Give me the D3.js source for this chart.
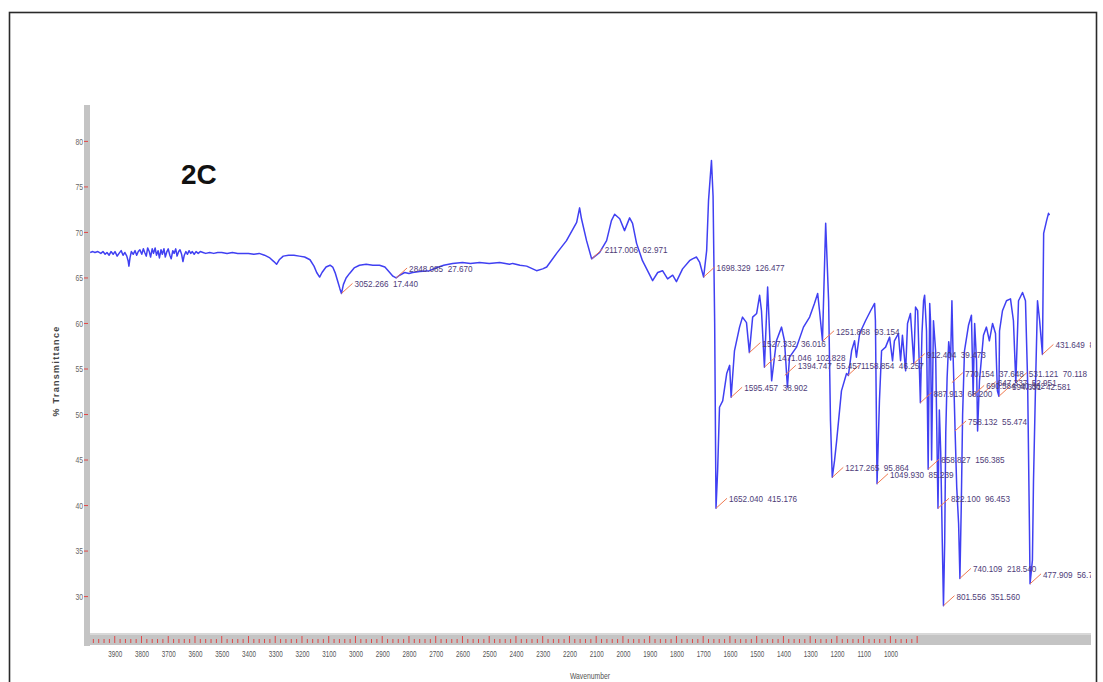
<!DOCTYPE html>
<html>
<head>
<meta charset="utf-8">
<script src="https://cdn.jsdelivr.net/npm/d3@7"></script>
<style>
  html, body { margin: 0; padding: 0; background: #fff; }
  svg { display: block; }
  .nf { font-family: "Liberation Sans", Arial, sans-serif; }
</style>
</head>
<body>
<svg id="chart" width="1103" height="682"></svg>
<script>
// ---------------- DATA ----------------
const chartTitle = "2C";
const xAxisTitle = "Wavenumber";
const yAxisTitle = "% Transmittance";

const xTickLabels = [3900,3800,3700,3600,3500,3400,3300,3200,3100,3000,2900,2800,2700,2600,2500,2400,2300,2200,2100,2000,1900,1800,1700,1600,1500,1400,1300,1200,1100,1000];
const yTickLabels = [30,35,40,45,50,55,60,65,70,75,80];

// Wavenumber (cm-1), descending
const wavenumber = [
 3992,3982,3974,3963,3952,3944,3936,3929,3921,3914,3906,3899,3891,3884,3876,3869,3862,3855,3850,3847,
 3843,3838,3831,3824,3818,3812,3806,3799,3793,3788,3782,3777,3771,3766,3760,3755,3749,3744,3738,3733,
 3727,3722,3716,3711,3705,3700,3694,3689,3683,3678,3672,3667,3661,3656,3650,3645,3640,3634,3628,3622,
 3616,3610,3603,3596,3588,3580,3570,3560,3545,3530,3515,3500,3480,3460,3440,3420,3400,
 3380,3360,3340,3320,3305,3295,3285,3270,3250,3230,3210,3190,3170,3155,3145,3134,3125,3110,3095,3085,
 3075,3065,3058,3052.3,3045,3035,3022,3005,2985,2960,2935,2910,2890,2872,2860,2848.1,2835,2816,2800,2786,
 2760,2723,2700,2670,2637,2600,2570,2536,2500,2461,2424,2412,2385,2360,2323,2300,2285,2248,2211,2173,
 2162,2155,2136,2117,2087,2061,2043,2031,2012,1994,1975,1964,1949,1927,1908,1889,1870,1852,1833,1814,
 1800,1777,1751,1740,1725,1713,1698.3,1687,1680,1669,1663,1657,1652.0,1646,1639,1627,1612,1601,1595.5,1583,
 1564,1553,1538,1527.3,1515,1500,1489,1482,1471.0,1459,1444,1426,1407,1396,1385,1377,1351,1325,1302,1284,
 1272,1265,1254,1242,1231,1224,1217.3,1209,1201,1183,1164,1157,1145,1134,1127,1115,1093,1074,1059,1056,
 1049.9,1041,1033,1018,1003,992,985,970,962,955,943,936,925,912.4,906,898,887.9,882,876,872,
 865,858.8,853,850,846,839,831,822.1,817,812,806,801.6,797,793,788,782,775,770,766,758.1,
 752,745,740.1,735,730,723,708,697,690.6,685,678,674,667,652,641,630,618,607,600,594.3,
 592,581,566,551,540,531.1,521,506,495,487,480,477.9,469,465,457,450,442,431.6,427,416,
 409,405
];
// % Transmittance
const transmittance = [
 67.8,67.9,67.8,67.9,67.7,67.9,67.6,67.8,67.5,67.9,67.6,67.9,67.4,67.7,68.0,67.5,67.8,67.4,66.9,66.3,
 67.2,67.9,67.6,68.0,67.5,67.9,68.1,67.6,68.2,67.8,67.4,68.3,67.9,67.3,68.2,67.7,68.3,67.5,68.0,67.2,
 68.1,67.6,68.2,67.3,67.9,68.2,67.5,67.1,68.0,67.7,68.2,67.4,67.9,68.1,67.6,66.8,67.5,67.9,67.6,68.0,
 67.7,67.9,67.6,67.9,67.7,67.9,67.8,67.7,67.8,67.7,67.8,67.8,67.7,67.8,67.7,67.7,67.7,
 67.6,67.7,67.5,67.2,66.8,66.5,67.0,67.4,67.5,67.5,67.4,67.3,67.0,66.3,65.6,65.1,65.6,66.2,66.4,66.2,
 65.5,64.5,63.8,63.3,64.3,65.0,65.5,66.1,66.4,66.5,66.4,66.4,66.2,65.6,65.2,65.0,65.3,65.6,65.5,65.6,
 65.7,65.8,66.1,66.4,66.6,66.7,66.6,66.7,66.6,66.7,66.5,66.6,66.4,66.3,65.8,66.0,66.2,67.7,69.1,71.1,
 72.7,71.5,69.1,67.1,67.8,69.1,71.3,72.0,71.5,70.2,71.6,71.0,68.8,66.9,65.8,64.7,65.6,65.8,64.9,65.3,
 64.6,66.0,66.9,67.1,67.3,66.7,65.1,68.0,73.5,77.9,74.0,60.0,39.7,43.8,50.8,51.5,54.5,55.4,51.9,57.0,
 59.6,60.7,60.1,56.8,60.7,61.1,63.1,61.4,55.2,64.0,53.7,58.1,59.6,58.1,53.0,56.3,57.4,59.6,60.7,62.2,
 63.3,61.4,58.1,71.0,62.5,49.3,43.1,44.9,47.1,52.6,54.5,54.3,57.0,58.1,56.3,58.9,60.3,61.4,62.2,60.3,
 42.4,51.5,57.0,57.4,58.5,55.9,58.1,58.9,55.9,58.7,54.8,60.0,61.1,55.6,61.8,61.4,51.3,58.9,62.5,63.1,
 59.2,44.0,62.2,60.3,45.0,60.3,57.0,39.7,50.5,46.0,36.0,29.0,36.0,48.0,54.0,58.0,56.0,62.5,57.0,48.2,
 42.0,38.0,32.0,40.0,50.0,57.0,59.8,60.9,52.1,60.0,55.9,48.2,53.7,58.7,59.6,58.1,60.0,58.9,52.6,52.0,
 59.2,61.4,62.5,62.7,60.3,53.5,62.5,63.4,62.5,53.7,37.3,31.4,34.0,42.7,53.7,62.5,60.3,56.6,69.9,71.3,
 72.1,71.9
];

// Peak annotations: position (wavenumber, %T) and text
const peakWavenumber = [3052.266,2848.085,2117.006,1698.329,1652.040,1595.457,1527.332,1471.046,1394.747,1251.868,1217.265,1158.854,1049.930,912.404,887.913,858.827,822.100,801.556,770.154,758.132,740.109,690.584,647.337,594.331,531.121,477.909,431.649];
const peakT          = [63.3,65.0,67.1,65.1,39.7,51.9,56.8,55.2,54.3,58.1,43.1,54.3,42.4,55.6,51.3,44.0,39.7,29.0,53.5,48.2,32.0,52.1,52.5,52.0,53.5,31.4,56.6];
const peakText = ["3052.266  17.440","2848.085  27.670","2117.006  62.971","1698.329  126.477","1652.040  415.176",
 "1595.457  38.902","1527.332  36.016","1471.046  102.828","1394.747  55.457","1251.868  93.154","1217.265  95.864",
 "1158.854  46.257","1049.930  85.239","912.404  39.473","887.913  68.200","858.827  156.385","822.100  96.453",
 "801.556  351.560","770.154  37.648","758.132  55.474","740.109  218.540","690.584  40.862","647.337  52.951",
 "594.331  42.581","531.121  70.118","477.909  56.742","431.649  84.718"];

// ---------------- DRAWING ----------------
const svg = d3.select("#chart");
const plot = { left: 90, right: 1091, top: 105, bottom: 633 };

const x = d3.scaleLinear().domain([4000, 250]).range([88, 1091]);
const y = d3.scaleLinear().domain([26, 84]).range([633, 105]);

// outer frame
svg.append("rect").attr("x", 9.5).attr("y", 12.5).attr("width", 1087).attr("height", 720)
  .attr("fill", "none").attr("stroke", "#2a2a2a").attr("stroke-width", 1.6);

// axis bars (gray)
svg.append("rect").attr("x", 84).attr("y", plot.top).attr("width", 6).attr("height", 541)
  .attr("fill", "#c4c4c4");
svg.append("rect").attr("x", 84).attr("y", 633).attr("width", 1007).attr("height", 12)
  .attr("fill", "#c4c4c4");
svg.append("rect").attr("x", 90).attr("y", 633).attr("width", 1001).attr("height", 2)
  .attr("fill", "#d8d8d8");

// x minor/major red ticks
const xMinor = d3.range(3980, 899, -20);
svg.append("g").selectAll("line").data(xMinor).join("line")
  .attr("x1", d => x(d)).attr("x2", d => x(d))
  .attr("y1", d => (d % 100 === 0) ? 636 : 639).attr("y2", 643)
  .attr("stroke", "#e04848").attr("stroke-width", 1);

// x tick labels via d3 axis
const xAxis = d3.axisBottom(x).tickValues(xTickLabels).tickSize(0).tickPadding(0).tickFormat(d3.format("d"));
const gx = svg.append("g").attr("transform", "translate(0,654)").call(xAxis);
gx.select(".domain").remove();
gx.selectAll("text").attr("class", "nf").attr("font-size", 8.5).attr("fill", "#555")
  .attr("dy", "0.3em").attr("y", 0).attr("transform", "scale(0.74,1)");

// y ticks
svg.append("g").selectAll("line").data(yTickLabels).join("line")
  .attr("x1", 84).attr("x2", 88).attr("y1", d => y(d)).attr("y2", d => y(d))
  .attr("stroke", "#e04848").attr("stroke-width", 1);
const yAxis = d3.axisLeft(y).tickValues(yTickLabels).tickSize(0).tickPadding(0);
const gy = svg.append("g").attr("transform", "translate(83,0)").call(yAxis);
gy.select(".domain").remove();
gy.selectAll("text").attr("class", "nf").attr("font-size", 8.5).attr("fill", "#666")
  .attr("transform", "scale(0.8,1)");

// axis titles
svg.append("text").attr("class", "nf").attr("transform", "translate(590,679) scale(0.8,1)")
  .attr("text-anchor", "middle").attr("font-size", 8.5).attr("fill", "#555").text(xAxisTitle);
svg.append("text").attr("class", "nf")
  .attr("transform", "translate(59,371) rotate(-90)")
  .attr("text-anchor", "middle").attr("font-size", 9).attr("font-weight", "bold")
  .attr("letter-spacing", 1.3).attr("fill", "#444").text(yAxisTitle);

// chart title "2C"
svg.append("text").attr("x", 181).attr("y", 184)
  .attr("font-family", "Liberation Sans, Arial, sans-serif").attr("font-size", 28)
  .attr("font-weight", "bold").attr("fill", "#111").text(chartTitle);

// clip
svg.append("clipPath").attr("id", "plotclip").append("rect")
  .attr("x", plot.left).attr("y", plot.top).attr("width", plot.right - plot.left).attr("height", plot.bottom - plot.top);

const pg = svg.append("g").attr("clip-path", "url(#plotclip)");

// spectrum line
const pts = wavenumber.map((w, i) => [w, transmittance[i]]);
const line = d3.line().x(d => x(d[0])).y(d => y(d[1]));
pg.append("path").datum(pts).attr("d", line)
  .attr("fill", "none").attr("stroke", "#4040f2").attr("stroke-width", 1.5)
  .attr("stroke-linejoin", "round");

// peak annotations
const peaks = peakWavenumber.map((w, i) => ({ w, t: peakT[i], s: peakText[i] }));
const ag = pg.append("g");
ag.selectAll("line").data(peaks).join("line")
  .attr("x1", d => x(d.w)).attr("y1", d => y(d.t))
  .attr("x2", d => x(d.w) + 11).attr("y2", d => y(d.t) - 10)
  .attr("stroke", "#f07a50").attr("stroke-width", 1);
ag.selectAll("text").data(peaks).join("text")
  .attr("class", "nf")
  .attr("transform", d => `translate(${x(d.w) + 13},${y(d.t) - 6}) scale(0.86,1)`)
  .attr("font-size", 9.5).attr("fill", "#4e3c78")
  .attr("xml:space", "preserve").style("white-space", "pre")
  .text(d => d.s);
</script>
</body>
</html>
